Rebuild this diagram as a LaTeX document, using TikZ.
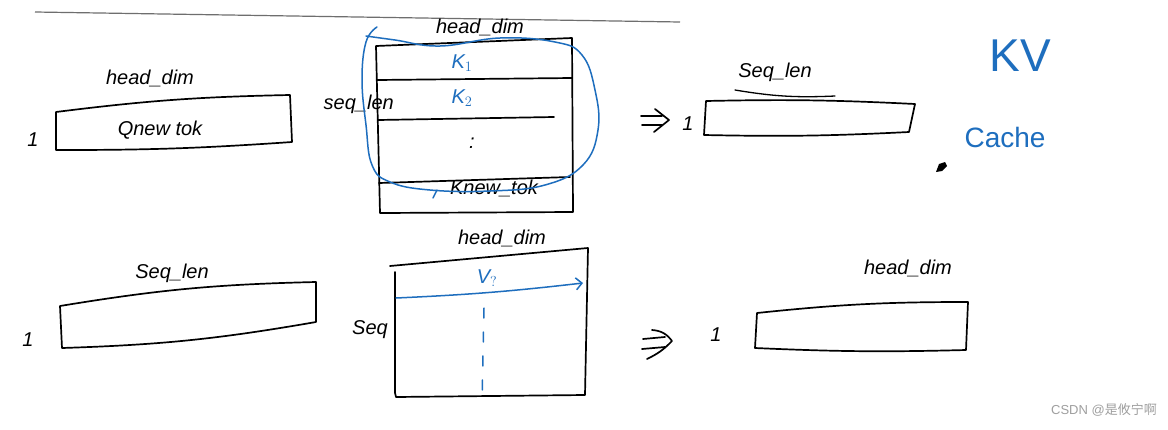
\documentclass[tikz,border=0pt]{standalone}
\usepackage{fontspec}
\setmainfont{Liberation Sans}
\newfontfamily\cjk{Noto Sans CJK SC}
\usetikzlibrary{arrows.meta}
\definecolor{handblue}{RGB}{30,110,190}
\definecolor{rulegray}{RGB}{110,110,110}
\tikzset{
  ink/.style={draw=black, line width=1.7pt, line join=round, line cap=round},
  blueink/.style={draw=handblue, line width=1.5pt, line join=round, line cap=round},
  lbl/.style={font=\fontsize{20}{22}\selectfont\itshape, inner sep=0pt, text=black},
  bluelbl/.style={font=\fontsize{20}{22}\selectfont\itshape, inner sep=0pt, text=handblue},
}
\begin{document}
\begin{tikzpicture}[x=1pt,y=-1pt]
\useasboundingbox (0,0) rectangle (1168,429);
\fill[white] (0,0) rectangle (1168,429);
% top rule
\coordinate (r1) at (35,12);
\coordinate (r2) at (680,22);
\draw[draw=rulegray, line width=1.2pt] (r1) -- (r2);

% ---------- top row: Q ----------
\node[lbl] (qdim) at (150,78) {head\_dim};
\node[lbl] (qone) at (33,140) {1};
\coordinate (q1) at (56,112); \coordinate (q2) at (290,95);
\coordinate (q3) at (292,142); \coordinate (q4) at (56,150);
\draw[ink] (q1) to[bend left=3] (q2) -- (q3) to[bend left=2] (q4) -- cycle;
\node[lbl] (qtxt) at (160,130) {Qnew tok};

% ---------- top row: K matrix ----------
\coordinate (k1) at (376,46); \coordinate (k2) at (572,38);
\coordinate (k3) at (573,212); \coordinate (k4) at (380,213);
\draw[ink] (k1) -- (k2) -- (k3) -- (k4) -- cycle;
\coordinate (ka1) at (377,80); \coordinate (ka2) at (572,78);
\coordinate (kb1) at (378,120); \coordinate (kb2) at (554,117);
\coordinate (kc1) at (379,183); \coordinate (kc2) at (570,177);
\draw[ink] (ka1) -- (ka2);
\draw[ink] (kb1) -- (kb2);
\draw[ink] (kc1) -- (kc2);
\node[lbl] (kdim) at (480,27) {head\_dim};
\node[lbl,anchor=east] (kseq) at (394,104) {seq\_len};
\node[bluelbl] (kr1) at (462,63) {K$_1$};
\node[bluelbl] (kr2) at (462,98) {K$_2$};
\node[lbl] (kdots) at (472,143) {:};
\node[lbl] (knew) at (494,188) {Knew\_tok};
\coordinate (t1) at (433,198); \coordinate (t2) at (437,190);
\draw[blueink] (t1) -- (t2);
% blue loop
\draw[blueink] plot[smooth, tension=0.7] coordinates {
  (377,27) (366,42) (362,80) (366,125) (372,165) (390,182) (430,190)
  (490,191) (545,185) (583,165) (598,130) (595,90) (582,55) (555,42)
  (500,38) (440,46) (395,40) (366,36)};

% arrow 1 (hand-drawn double arrow)
\coordinate (a1s1) at (641,116); \coordinate (a1e1) at (662,116);
\coordinate (a1s2) at (642,125); \coordinate (a1e2) at (662,125);
\coordinate (a1h1) at (655,109); \coordinate (a1h2) at (669,120); \coordinate (a1h3) at (654,132);
\draw[ink] (a1s1) -- (a1e1);
\draw[ink] (a1s2) -- (a1e2);
\draw[ink] (a1h1) -- (a1h2) -- (a1h3);
\node[lbl] (o1one) at (688,124) {1};
% output 1
\coordinate (o1) at (706,101); \coordinate (o2) at (915,104);
\coordinate (o3) at (909,132); \coordinate (o4) at (704,135);
\draw[ink] (o1) to[bend left=2] (o2) -- (o3) to[bend left=2] (o4) -- cycle;
\node[lbl] (o1seq) at (775,72) {Seq\_len};
\coordinate (u1) at (735,90); \coordinate (u2) at (835,96);
\draw[ink, line width=1.3pt] (u1) to[bend right=6] (u2);

% KV cache
\node[font=\fontsize{46}{48}\selectfont, text=handblue, inner sep=0pt] (kv) at (1020,56) {KV};
\node[font=\fontsize{28}{30}\selectfont, text=handblue, inner sep=0pt] (cache) at (1005,137) {Cache};
% pencil cursor
\coordinate (p0) at (940,168);
\fill[black] (p0) ++(-4,4) -- ++(3,-8) -- ++(6,-2) -- ++(2,4) -- ++(-5,5) -- cycle;

% ---------- bottom row: attention row ----------
\node[lbl] (sdim) at (172,273) {Seq\_len};
\node[lbl] (sone) at (28,340) {1};
\coordinate (s1) at (60,306); \coordinate (s2) at (316,282);
\coordinate (s3) at (316,322); \coordinate (s4) at (62,348);
\draw[ink] (s1) to[bend left=4] (s2) -- (s3) to[bend left=4] (s4) -- cycle;

% V matrix
\coordinate (v1) at (390,266); \coordinate (v2) at (588,248);
\coordinate (v3) at (585,395); \coordinate (v4) at (396,397);
\coordinate (vl1) at (395,272); \coordinate (vl2) at (395,393);
\draw[ink] (v1) -- (v2) -- (v3) -- (v4) -- (vl2) -- (vl1);
\node[lbl] (vdim) at (502,238) {head\_dim};
\node[lbl] (vseq) at (370,330) {Seq};
\coordinate (va) at (396,298); \coordinate (vb) at (583,283);
\draw[blueink, -{Straight Barb[length=6pt]}] (va) to[bend right=2] (vb);
\node[bluelbl] (vrow) at (487,278) {V$_?$};
\coordinate (vd1) at (484,308); \coordinate (vd2) at (482,402);
\draw[blueink, dash pattern=on 10pt off 14pt] (vd1) -- (vd2);

% arrow 2 (hand-drawn double arrow)
\coordinate (a2s1) at (643,339); \coordinate (a2e1) at (665,337);
\coordinate (a2s2) at (642,349); \coordinate (a2e2) at (665,347);
\coordinate (a2h1) at (652,330); \coordinate (a2h2) at (672,341); \coordinate (a2h3) at (647,359);
\draw[ink] (a2s1) -- (a2e1);
\draw[ink] (a2s2) -- (a2e2);
\draw[ink] (a2h1) to[bend left=25] (a2h2) to[bend left=10] (a2h3);
\node[lbl] (o2one) at (716,335) {1};
% output 2
\coordinate (w1) at (757,313); \coordinate (w2) at (968,302);
\coordinate (w3) at (966,350); \coordinate (w4) at (755,348);
\draw[ink] (w1) to[bend left=3] (w2) -- (w3) to[bend left=2] (w4) -- cycle;
\node[lbl] (wdim) at (908,268) {head\_dim};

% watermark
\node[font=\fontsize{13}{15}\selectfont, text=gray!75, inner sep=0pt, anchor=east] (wm) at (1157,410) {CSDN @{\cjk 是攸宁啊}};
\end{tikzpicture}
\end{document}
